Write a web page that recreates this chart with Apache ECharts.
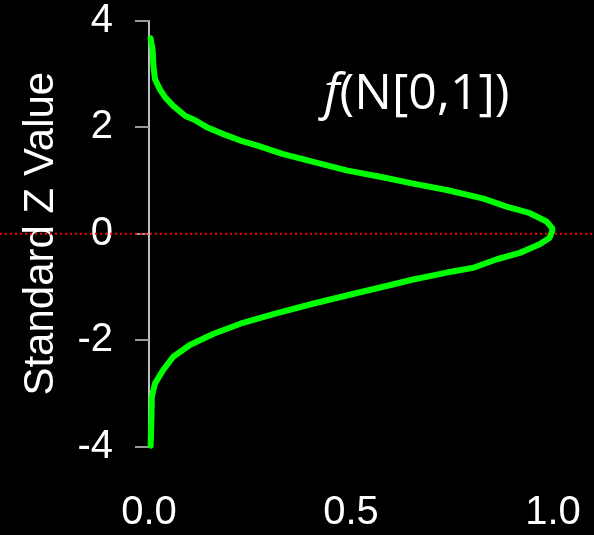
<!DOCTYPE html>
<html>
<head>
<meta charset="utf-8">
<script src="https://cdn.jsdelivr.net/npm/echarts@6/dist/echarts.min.js"></script>
<style>
html, body { margin: 0; padding: 0; background: #000; }
#main { width: 594px; height: 535px; }
</style>
</head>
<body>
<div id="main"></div>
<script>
// 曲线数据：标准 Z 值 与 对应的归一化密度
var zValues = [-3.98, -3.49, -3.06, -2.81, -2.56, -2.31, -2.09, -1.88, -1.69, -1.51,
    -1.32, -1.16, -1.01, -0.86, -0.73, -0.64, -0.48, -0.36, -0.20, -0.08,
    0.045, 0.105, 0.23, 0.385, 0.51, 0.66, 0.82, 0.94, 1.07, 1.19,
    1.35, 1.50, 1.66, 1.75, 1.87, 2.00, 2.14, 2.21, 2.40, 2.56,
    2.71, 2.90, 3.14, 3.45, 3.67];
var density = [0.004, 0.006, 0.007, 0.015, 0.035, 0.060, 0.101, 0.160, 0.226, 0.308,
    0.403, 0.489, 0.572, 0.654, 0.737, 0.803, 0.861, 0.918, 0.967, 0.991,
    0.998, 0.998, 0.984, 0.943, 0.885, 0.828, 0.737, 0.654, 0.572, 0.489,
    0.407, 0.330, 0.267, 0.226, 0.184, 0.143, 0.112, 0.090, 0.060, 0.040,
    0.027, 0.015, 0.011, 0.009, 0.004];
var yTicks = [-4, -2, 0, 2, 4];
var xTicks = ['0.0', '0.5', '1.0'];
var refLine = [[0, 0], [1, 0]];   // 红色虚线 z = 0

var chart = echarts.init(document.getElementById('main'));

var curve = [];
for (var i = 0; i < zValues.length; i++) {
    curve.push([density[i], zValues[i]]);
}

var option = {
    backgroundColor: '#000',
    animation: false,
    title: {
        text: '{i|f}(N[0,1])',
        left: 324,
        top: 70,
        padding: 0,
        textStyle: {
            color: '#fff',
            fontSize: 50,
            fontWeight: 'normal',
            fontFamily: 'Open Sans',
            rich: {
                i: { fontStyle: 'italic', fontSize: 50, color: '#fff', fontFamily: 'Open Sans' }
            }
        }
    },
    grid: [
        { left: 149, right: 41, top: 20.7, bottom: 88.3 },
        { left: 0, right: 0, top: 20.7, bottom: 88.3 }
    ],
    xAxis: [
        {
            gridIndex: 0,
            type: 'value',
            min: 0,
            max: 1,
            interval: 0.5,
            axisLine: { show: false },
            axisTick: { show: false },
            splitLine: { show: false },
            axisLabel: {
                color: '#fff',
                fontSize: 40,
                fontFamily: 'Liberation Sans',
                margin: 46,
                formatter: function (v) { return xTicks[Math.round(v * 2)]; }
            }
        },
        {
            gridIndex: 1, type: 'value', min: 0, max: 1, show: false
        }
    ],
    yAxis: [
        {
            gridIndex: 0,
            type: 'value',
            min: yTicks[0],
            max: yTicks[yTicks.length - 1],
            interval: 2,
            name: 'Standard Z Value',
            nameLocation: 'middle',
            nameGap: 87,
            nameTextStyle: { color: '#fff', fontSize: 42, fontFamily: 'Liberation Sans' },
            axisLine: { show: true, lineStyle: { color: '#fff', width: 1.5 } },
            axisTick: { show: true, length: 14, lineStyle: { color: '#999', width: 2 } },
            splitLine: { show: false },
            axisLabel: {
                color: '#fff',
                fontSize: 40,
                fontFamily: 'Liberation Sans',
                margin: 36
            }
        },
        {
            gridIndex: 1, type: 'value', min: -4, max: 4, show: false
        }
    ],
    series: [
        {
            type: 'line',
            xAxisIndex: 1,
            yAxisIndex: 1,
            data: refLine,
            symbol: 'none',
            z: 1,
            lineStyle: { color: '#ff0000', width: 2, type: [2, 3] }
        },
        {
            type: 'line',
            xAxisIndex: 0,
            yAxisIndex: 0,
            data: curve,
            symbol: 'none',
            clip: false,
            z: 3,
            lineStyle: { color: '#00ff00', width: 6, join: 'round', cap: 'round' }
        }
    ]
};

chart.setOption(option);
window.onresize = chart.resize;
</script>
</body>
</html>
